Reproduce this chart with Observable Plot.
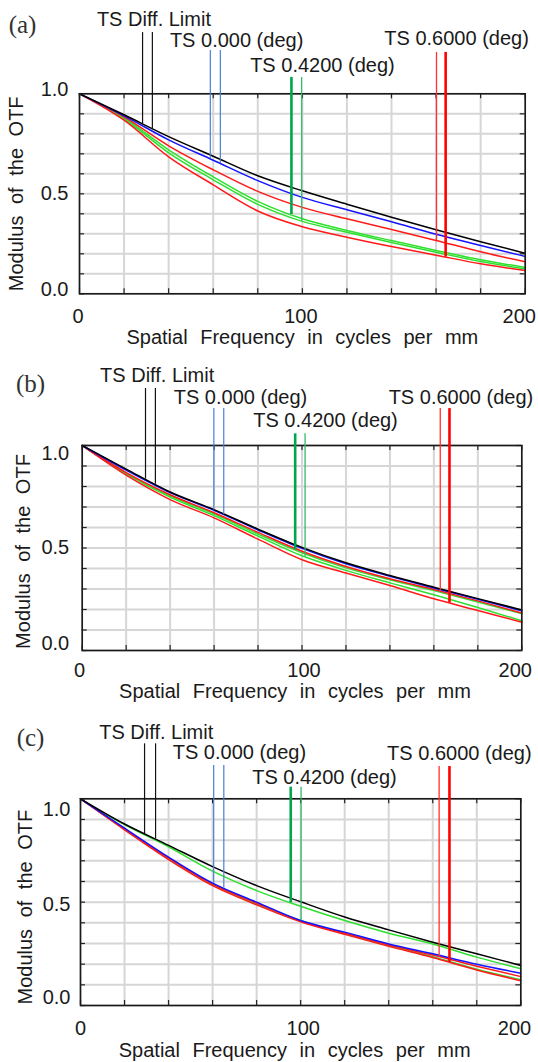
<!DOCTYPE html>
<html><head><meta charset="utf-8">
<script src="https://cdn.jsdelivr.net/npm/d3@7"></script>
<script src="https://cdn.jsdelivr.net/npm/@observablehq/plot@0.6"></script>
<style>
html,body{margin:0;padding:0;background:#fff;}
#chart svg{display:block;}
</style></head><body><div id="chart"></div>
<script>
// ---------- data ----------
const freq = [0, 20, 40, 60, 80, 100, 120, 140, 160, 180, 200];
const fieldLabels = ["TS Diff. Limit", "TS 0.000 (deg)", "TS 0.4200 (deg)", "TS 0.6000 (deg)"];
const xTicks = [0, 100, 200];
const yTicks = [0, 0.5, 1];
const xTitle = "Spatial Frequency in cycles per mm";
const yTitle = "Modulus of the OTF";
const panelNames = ["(a)", "(b)", "(c)"];

// panel (a)
const aDiff   = [1, 0.895, 0.786, 0.688, 0.590, 0.515, 0.448, 0.383, 0.320, 0.260, 0.203];
const aBlue   = [1, 0.890, 0.770, 0.668, 0.566, 0.482, 0.420, 0.360, 0.298, 0.242, 0.187];
const aRedT   = [1, 0.885, 0.740, 0.620, 0.512, 0.432, 0.375, 0.322, 0.267, 0.210, 0.160];
const aGreenT = [1, 0.880, 0.720, 0.585, 0.462, 0.375, 0.317, 0.266, 0.217, 0.170, 0.132];
const aGreenS = [1, 0.875, 0.705, 0.570, 0.447, 0.362, 0.308, 0.257, 0.208, 0.161, 0.124];
const aRedS   = [1, 0.868, 0.685, 0.545, 0.414, 0.335, 0.283, 0.236, 0.193, 0.150, 0.116];
const aMarkers = [[28.3, 32.7], [58.7, 63.2], [95.1, 99.7], [160.2, 164.3]];

// panel (b)
const bDiff   = [1, 0.885, 0.773, 0.687, 0.592, 0.503, 0.428, 0.366, 0.309, 0.253, 0.198];
const bBlue   = [1, 0.880, 0.770, 0.684, 0.588, 0.498, 0.423, 0.362, 0.305, 0.250, 0.194];
const bRedT   = [1, 0.868, 0.760, 0.672, 0.576, 0.484, 0.410, 0.350, 0.298, 0.242, 0.183];
const bGreenT = [1, 0.865, 0.755, 0.667, 0.568, 0.477, 0.403, 0.345, 0.292, 0.237, 0.180];
const bGreenS = [1, 0.862, 0.748, 0.658, 0.558, 0.462, 0.391, 0.330, 0.272, 0.210, 0.145];
const bRedS   = [1, 0.855, 0.736, 0.647, 0.543, 0.443, 0.378, 0.317, 0.252, 0.195, 0.138];
const bMarkers = [[28.8, 33.3], [59.9, 64.4], [96.9, 101.4], [162.9, 167.1]];

// panel (c)
const cDiff   = [1, 0.878, 0.775, 0.672, 0.580, 0.502, 0.428, 0.366, 0.306, 0.250, 0.194];
const cGreenT = [1, 0.875, 0.768, 0.650, 0.556, 0.480, 0.411, 0.350, 0.298, 0.234, 0.178];
const cBlue   = [1, 0.858, 0.718, 0.592, 0.500, 0.411, 0.355, 0.298, 0.250, 0.200, 0.156];
const cRedT   = [1, 0.855, 0.714, 0.588, 0.496, 0.409, 0.350, 0.293, 0.244, 0.190, 0.140];
const cGreenS = [1, 0.853, 0.711, 0.585, 0.492, 0.411, 0.347, 0.290, 0.236, 0.175, 0.125];
const cRedS   = [1, 0.850, 0.706, 0.580, 0.487, 0.405, 0.344, 0.286, 0.232, 0.172, 0.120];
const cMarkers = [[29.1, 34.1], [60.5, 65.1], [95.5, 100.2], [162.9, 167.6]];

// ---------- layout / style ----------
const panels = [
  {name: panelNames[0], H: 350, mt: 93.3, mb: 56.7, ml: 79, mr: 13.3,
   s: {diff: aDiff, blue: aBlue, greenT: aGreenT, greenS: aGreenS, redT: aRedT, redS: aRedS}, markers: aMarkers,
   labelPos: [[33.4, 1.369], [70.5, 1.267], [109, 1.142], [169.2, 1.274]],
   markerTop: [1.306, 1.217, 1.082, 1.207],
   nameOff: [-57, -69.3], xTickDy: 23, xTickDx: [-1.5, -1.5, -6], yTickDy: [-4.5, 0, -4.3], yTickDx: -11,
   xTitleOff: [0, 44], yTitleOff: [-63, 0]},
  {name: panelNames[1], H: 355, mt: 95, mb: 55, ml: 81.7, mr: 16.7,
   s: {diff: bDiff, blue: bBlue, greenT: bGreenT, greenS: bGreenS, redT: bRedT, redS: bRedS}, markers: bMarkers,
   labelPos: [[34.1, 1.341], [72, 1.236], [110.7, 1.12], [172.3, 1.232]],
   markerTop: [1.278, 1.18, 1.057, 1.18],
   nameOff: [-51.7, -62], xTickDy: 20.5, xTickDx: [-2.7, 2, -6.6], yTickDy: [-7, 0, 8], yTickDx: -13,
   xTitleOff: [-7, 41], yTitleOff: [-59, 3.5]},
  {name: panelNames[2], H: 357, mt: 93.3, mb: 57, ml: 80, mr: 17.7,
   s: {diff: cDiff, blue: cBlue, greenT: cGreenT, greenS: cGreenS, redT: cRedT, redS: cRedS}, markers: cMarkers,
   labelPos: [[34.4, 1.318], [72.2, 1.222], [110.8, 1.105], [172.1, 1.217]],
   markerTop: [1.266, 1.161, 1.056, 1.156],
   nameOff: [-50, -60.8], xTickDy: 23.3, xTickDx: [0, 2.6, -6.3], yTickDy: [-7.5, 2.3, 10.7], yTickDx: -10,
   xTitleOff: [-6, 45], yTitleOff: [-55, 5]}
];

const curveStyle = {
  greenS: "#2ee02e", greenT: "#2ee02e", redS: "#ff1a1a", redT: "#ff1a1a", blue: "#1414ff", diff: "#000000"
};
const drawOrder = ["greenS", "greenT", "redS", "redT", "blue", "diff"];
// marker line: [series for the end, colour, width] per field, left then right
const markerStyle = [
  [["diff", "#111", 1.2], ["diff", "#111", 1.2]],
  [["blue", "#4a7fd4", 1.2], ["blue", "#4a7fd4", 1.2]],
  [["greenT", "#00a64c", 2.6], ["greenS", "#36b86a", 1.3]],
  [["redT", "#ff3030", 1.3], ["redS", "#ff0000", 2.6]]
];
const FONT = "'Liberation Sans', Arial, sans-serif";
const INK = "#1a1a1a";

function valueAt(vals, f) {
  const i = Math.max(0, Math.min(freq.length - 2, d3.bisectRight(freq, f) - 1));
  const t = (f - freq[i]) / (freq[i + 1] - freq[i]);
  return vals[i] + t * (vals[i + 1] - vals[i]);
}

function drawPanel(p) {
  const W = 538;
  const plotW = W - p.ml - p.mr, plotH = p.H - p.mt - p.mb;
  const tY = 5 / plotH, tX = 5 / plotW * 200;
  const gridX = d3.range(0, 11).map(i => i * 20);
  const gridY = d3.range(0, 11).map(i => i / 10);

  const rows = drawOrder.flatMap(k => freq.map((f, i) => ({f, v: p.s[k][i], k, color: curveStyle[k]})));
  const mk = [];
  p.markers.forEach((pair, j) => pair.forEach((f, m) => {
    const [k, color, w] = markerStyle[j][m];
    mk.push({f, top: p.markerTop[j], bottom: valueAt(p.s[k], f), color, w});
  }));
  const labels = fieldLabels.map((t, j) => ({t, x: p.labelPos[j][0], y: p.labelPos[j][1]}));

  const marks = [
    Plot.ruleX(gridX, {x: d => d, stroke: "#d6d6d6", strokeWidth: 2}),
    Plot.ruleY(gridY, {y: d => d, stroke: "#d6d6d6", strokeWidth: 2}),
    Plot.ruleX(gridX, {x: d => d, y1: () => 0, y2: () => tY, stroke: "#222", strokeWidth: 1.2}),
    Plot.ruleX(gridX, {x: d => d, y1: () => 1 - tY, y2: () => 1, stroke: "#222", strokeWidth: 1.2}),
    Plot.ruleY(gridY, {y: d => d, x1: () => 0, x2: () => tX, stroke: "#222", strokeWidth: 1.2}),
    Plot.ruleY(gridY, {y: d => d, x1: () => 200 - tX, x2: () => 200, stroke: "#222", strokeWidth: 1.2}),
    Plot.line(rows, {x: "f", y: "v", z: "k", stroke: "color", strokeWidth: 1.5, curve: "monotone-x"}),
    Plot.frame({stroke: "#1a1a1a", strokeWidth: 1.6}),
    Plot.ruleX(mk, {x: "f", y1: "top", y2: "bottom", stroke: "color", strokeWidth: "w"}),
    Plot.text(labels, {x: "x", y: "y", text: "t", fontSize: 20, fill: INK}),
    ...xTicks.map((t, i) => Plot.text([t], {x: d => d, text: d => String(d), frameAnchor: "bottom",
      lineAnchor: "middle", textAnchor: "middle", dx: p.xTickDx[i], dy: p.xTickDy, fontSize: 20, fill: INK})),
    ...yTicks.map((t, i) => Plot.text([t], {y: d => d, text: d => d.toFixed(1), frameAnchor: "left",
      textAnchor: "end", lineAnchor: "middle", dx: p.yTickDx, dy: p.yTickDy[i], fontSize: 20, fill: INK})),
    Plot.text([xTitle], {text: d => d, frameAnchor: "bottom", textAnchor: "middle", lineAnchor: "middle",
      dx: p.xTitleOff[0], dy: p.xTitleOff[1], fontSize: 20, fill: INK}),
    Plot.text([yTitle], {text: d => d, frameAnchor: "left", textAnchor: "middle", lineAnchor: "middle", rotate: -90,
      dx: p.yTitleOff[0], dy: p.yTitleOff[1], fontSize: 20, fill: INK}),
    Plot.text([p.name], {text: d => d, frameAnchor: "top-left", textAnchor: "middle", lineAnchor: "middle",
      dx: p.nameOff[0], dy: p.nameOff[1], fontSize: 25,
      fontFamily: "'Liberation Serif', 'DejaVu Serif', serif", fill: "#333"})
  ];

  const svg = Plot.plot({
    width: W, height: p.H,
    marginTop: p.mt, marginBottom: p.mb, marginLeft: p.ml, marginRight: p.mr,
    x: {domain: [0, 200], axis: null},
    y: {domain: [0, 1], axis: null},
    color: {type: "identity"},
    style: {fontFamily: FONT, background: "#fff", overflow: "visible"},
    marks
  });
  d3.select(svg).selectAll("text").each(function() {
    if (this.textContent === xTitle) d3.select(this).style("word-spacing", "7px");
    if (this.textContent === yTitle) d3.select(this).style("word-spacing", "6px");
  });
  return svg;
}

const root = document.getElementById("chart");
panels.forEach(p => root.appendChild(drawPanel(p)));
</script>
</body></html>
